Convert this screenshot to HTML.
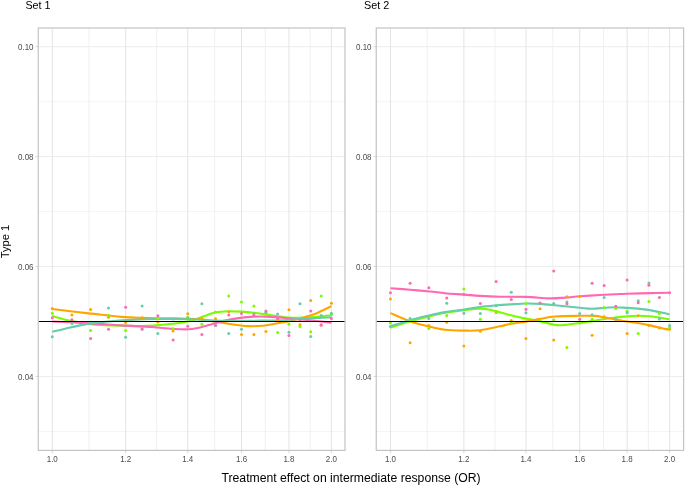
<!DOCTYPE html><html><head><meta charset="utf-8"><style>
html,body{margin:0;padding:0;background:#fff;width:685px;height:485px;overflow:hidden}
svg{display:block;will-change:transform}
text{font-family:"Liberation Sans",sans-serif}
</style></head><body>
<svg width="685" height="485" viewBox="0 0 685 485">
<rect x="0" y="0" width="685" height="485" fill="#fff"/>
<defs><clipPath id="c0"><rect x="38.25" y="28.00" width="306.75" height="422.40"/></clipPath></defs>
<g>
<line x1="38.25" x2="345.00" y1="431.38" y2="431.38" stroke="#F4F4F4" stroke-width="1.0"/>
<line x1="38.25" x2="345.00" y1="321.48" y2="321.48" stroke="#F4F4F4" stroke-width="1.0"/>
<line x1="38.25" x2="345.00" y1="211.58" y2="211.58" stroke="#F4F4F4" stroke-width="1.0"/>
<line x1="38.25" x2="345.00" y1="101.68" y2="101.68" stroke="#F4F4F4" stroke-width="1.0"/>
<line x1="88.96" x2="88.96" y1="28.00" y2="450.40" stroke="#F0F0F0" stroke-width="1.0"/>
<line x1="156.71" x2="156.71" y1="28.00" y2="450.40" stroke="#F0F0F0" stroke-width="1.0"/>
<line x1="214.63" x2="214.63" y1="28.00" y2="450.40" stroke="#F0F0F0" stroke-width="1.0"/>
<line x1="265.24" x2="265.24" y1="28.00" y2="450.40" stroke="#F0F0F0" stroke-width="1.0"/>
<line x1="310.17" x2="310.17" y1="28.00" y2="450.40" stroke="#F0F0F0" stroke-width="1.0"/>
<line x1="38.25" x2="345.00" y1="376.43" y2="376.43" stroke="#ECECEC" stroke-width="1.0"/>
<line x1="38.25" x2="345.00" y1="266.53" y2="266.53" stroke="#ECECEC" stroke-width="1.0"/>
<line x1="38.25" x2="345.00" y1="156.63" y2="156.63" stroke="#ECECEC" stroke-width="1.0"/>
<line x1="38.25" x2="345.00" y1="46.73" y2="46.73" stroke="#ECECEC" stroke-width="1.0"/>
<line x1="52.25" x2="52.25" y1="28.00" y2="450.40" stroke="#E4E4E4" stroke-width="1.0"/>
<line x1="125.67" x2="125.67" y1="28.00" y2="450.40" stroke="#E4E4E4" stroke-width="1.0"/>
<line x1="187.75" x2="187.75" y1="28.00" y2="450.40" stroke="#E4E4E4" stroke-width="1.0"/>
<line x1="241.52" x2="241.52" y1="28.00" y2="450.40" stroke="#E4E4E4" stroke-width="1.0"/>
<line x1="288.95" x2="288.95" y1="28.00" y2="450.40" stroke="#E4E4E4" stroke-width="1.0"/>
<line x1="331.38" x2="331.38" y1="28.00" y2="450.40" stroke="#E4E4E4" stroke-width="1.0"/>
</g>
<g clip-path="url(#c0)">
<path d="M52.25,316.00 C55.27,316.82 63.96,319.55 70.40,320.90 C76.84,322.25 84.08,323.35 90.90,324.10 C97.72,324.85 102.78,325.07 111.30,325.40 C119.82,325.73 134.50,326.10 142.00,326.10 C149.50,326.10 151.20,325.78 156.30,325.40 C161.40,325.02 166.98,324.53 172.60,323.80 C178.22,323.07 184.93,322.22 190.00,321.00 C195.07,319.78 198.67,317.95 203.00,316.50 C207.33,315.05 211.83,313.18 216.00,312.30 C220.17,311.42 223.83,311.32 228.00,311.20 C232.17,311.08 236.67,311.35 241.00,311.60 C245.33,311.85 249.83,312.23 254.00,312.70 C258.17,313.17 260.83,313.65 266.00,314.40 C271.17,315.15 279.25,316.63 285.00,317.20 C290.75,317.77 295.50,317.82 300.50,317.80 C305.50,317.78 309.85,317.53 315.00,317.10 C320.15,316.67 328.65,315.52 331.38,315.20" fill="none" stroke="#7CFC00" stroke-width="2.1" stroke-linecap="butt" stroke-linejoin="round"/>
<path d="M52.25,309.00 C55.27,309.38 63.96,310.53 70.40,311.30 C76.84,312.07 82.38,312.67 90.90,313.60 C99.42,314.53 112.98,316.18 121.50,316.90 C130.02,317.62 133.08,317.65 142.00,317.90 C150.92,318.15 165.33,318.18 175.00,318.40 C184.67,318.62 193.17,318.67 200.00,319.20 C206.83,319.73 211.00,320.80 216.00,321.60 C221.00,322.40 224.75,323.25 230.00,324.00 C235.25,324.75 242.17,325.80 247.50,326.10 C252.83,326.40 257.18,326.23 262.00,325.80 C266.82,325.37 271.73,324.30 276.40,323.50 C281.07,322.70 285.98,321.88 290.00,321.00 C294.02,320.12 296.33,319.38 300.50,318.20 C304.67,317.02 309.85,315.88 315.00,313.90 C320.15,311.92 328.65,307.57 331.38,306.30" fill="none" stroke="#FFA500" stroke-width="2.1" stroke-linecap="butt" stroke-linejoin="round"/>
<path d="M52.25,321.50 C58.69,321.82 79.36,322.75 90.90,323.40 C102.44,324.05 111.32,324.80 121.50,325.40 C131.68,326.00 143.48,326.42 152.00,327.00 C160.52,327.58 165.93,328.57 172.60,328.90 C179.27,329.23 185.60,329.73 192.00,329.00 C198.40,328.27 205.50,325.90 211.00,324.50 C216.50,323.10 220.17,321.70 225.00,320.60 C229.83,319.50 235.17,318.57 240.00,317.90 C244.83,317.23 249.67,316.82 254.00,316.60 C258.33,316.38 260.27,316.33 266.00,316.60 C271.73,316.87 280.65,317.53 288.40,318.20 C296.15,318.87 305.34,319.87 312.50,320.60 C319.66,321.33 328.23,322.27 331.38,322.60" fill="none" stroke="#FF69B4" stroke-width="2.1" stroke-linecap="butt" stroke-linejoin="round"/>
<path d="M52.25,331.80 C55.27,331.08 63.96,328.90 70.40,327.50 C76.84,326.10 84.08,324.43 90.90,323.40 C97.72,322.37 104.50,321.88 111.30,321.30 C118.10,320.72 123.58,320.28 131.70,319.90 C139.82,319.52 150.28,319.10 160.00,319.00 C169.72,318.90 180.83,319.03 190.00,319.30 C199.17,319.57 206.67,320.33 215.00,320.60 C223.33,320.87 231.67,320.90 240.00,320.90 C248.33,320.90 258.33,320.70 265.00,320.60 C271.67,320.50 274.17,320.57 280.00,320.30 C285.83,320.03 291.44,319.50 300.00,319.00 C308.56,318.50 326.15,317.58 331.38,317.30" fill="none" stroke="#66CDAA" stroke-width="2.1" stroke-linecap="butt" stroke-linejoin="round"/>
<circle cx="52.25" cy="308.50" r="1.5" fill="#FFA500"/>
<circle cx="71.90" cy="314.90" r="1.5" fill="#FFA500"/>
<circle cx="90.63" cy="309.40" r="1.5" fill="#FFA500"/>
<circle cx="108.53" cy="317.20" r="1.5" fill="#FFA500"/>
<circle cx="125.67" cy="322.50" r="1.5" fill="#FFA500"/>
<circle cx="142.11" cy="317.80" r="1.5" fill="#FFA500"/>
<circle cx="157.90" cy="322.10" r="1.5" fill="#FFA500"/>
<circle cx="173.10" cy="331.00" r="1.5" fill="#FFA500"/>
<circle cx="187.75" cy="313.70" r="1.5" fill="#FFA500"/>
<circle cx="201.88" cy="318.70" r="1.5" fill="#FFA500"/>
<circle cx="215.53" cy="318.70" r="1.5" fill="#FFA500"/>
<circle cx="228.74" cy="311.70" r="1.5" fill="#FFA500"/>
<circle cx="241.52" cy="334.50" r="1.5" fill="#FFA500"/>
<circle cx="253.91" cy="334.50" r="1.5" fill="#FFA500"/>
<circle cx="265.93" cy="331.40" r="1.5" fill="#FFA500"/>
<circle cx="277.61" cy="320.00" r="1.5" fill="#FFA500"/>
<circle cx="288.95" cy="309.70" r="1.5" fill="#FFA500"/>
<circle cx="299.99" cy="324.80" r="1.5" fill="#FFA500"/>
<circle cx="310.72" cy="300.50" r="1.5" fill="#FFA500"/>
<circle cx="321.18" cy="324.80" r="1.5" fill="#FFA500"/>
<circle cx="331.38" cy="303.30" r="1.5" fill="#FFA500"/>
<circle cx="52.25" cy="313.20" r="1.5" fill="#7CFC00"/>
<circle cx="71.90" cy="320.50" r="1.5" fill="#7CFC00"/>
<circle cx="90.63" cy="330.50" r="1.5" fill="#7CFC00"/>
<circle cx="108.53" cy="315.30" r="1.5" fill="#7CFC00"/>
<circle cx="125.67" cy="330.40" r="1.5" fill="#7CFC00"/>
<circle cx="142.11" cy="328.80" r="1.5" fill="#7CFC00"/>
<circle cx="157.90" cy="318.20" r="1.5" fill="#7CFC00"/>
<circle cx="173.10" cy="328.70" r="1.5" fill="#7CFC00"/>
<circle cx="187.75" cy="317.40" r="1.5" fill="#7CFC00"/>
<circle cx="201.88" cy="324.20" r="1.5" fill="#7CFC00"/>
<circle cx="215.53" cy="312.00" r="1.5" fill="#7CFC00"/>
<circle cx="228.74" cy="296.10" r="1.5" fill="#7CFC00"/>
<circle cx="241.52" cy="302.10" r="1.5" fill="#7CFC00"/>
<circle cx="253.91" cy="306.00" r="1.5" fill="#7CFC00"/>
<circle cx="265.93" cy="314.20" r="1.5" fill="#7CFC00"/>
<circle cx="277.61" cy="332.50" r="1.5" fill="#7CFC00"/>
<circle cx="288.95" cy="324.20" r="1.5" fill="#7CFC00"/>
<circle cx="299.99" cy="326.50" r="1.5" fill="#7CFC00"/>
<circle cx="310.72" cy="331.80" r="1.5" fill="#7CFC00"/>
<circle cx="321.18" cy="296.10" r="1.5" fill="#7CFC00"/>
<circle cx="331.38" cy="314.70" r="1.5" fill="#7CFC00"/>
<circle cx="52.25" cy="336.70" r="1.5" fill="#66CDAA"/>
<circle cx="71.90" cy="323.40" r="1.5" fill="#66CDAA"/>
<circle cx="90.63" cy="323.20" r="1.5" fill="#66CDAA"/>
<circle cx="108.53" cy="308.10" r="1.5" fill="#66CDAA"/>
<circle cx="125.67" cy="337.30" r="1.5" fill="#66CDAA"/>
<circle cx="142.11" cy="306.00" r="1.5" fill="#66CDAA"/>
<circle cx="157.90" cy="333.50" r="1.5" fill="#66CDAA"/>
<circle cx="173.10" cy="319.00" r="1.5" fill="#66CDAA"/>
<circle cx="187.75" cy="317.40" r="1.5" fill="#66CDAA"/>
<circle cx="201.88" cy="303.80" r="1.5" fill="#66CDAA"/>
<circle cx="215.53" cy="325.40" r="1.5" fill="#66CDAA"/>
<circle cx="228.74" cy="333.50" r="1.5" fill="#66CDAA"/>
<circle cx="241.52" cy="329.20" r="1.5" fill="#66CDAA"/>
<circle cx="253.91" cy="313.70" r="1.5" fill="#66CDAA"/>
<circle cx="265.93" cy="312.30" r="1.5" fill="#66CDAA"/>
<circle cx="277.61" cy="314.10" r="1.5" fill="#66CDAA"/>
<circle cx="288.95" cy="332.30" r="1.5" fill="#66CDAA"/>
<circle cx="299.99" cy="303.80" r="1.5" fill="#66CDAA"/>
<circle cx="310.72" cy="336.60" r="1.5" fill="#66CDAA"/>
<circle cx="321.18" cy="315.50" r="1.5" fill="#66CDAA"/>
<circle cx="331.38" cy="313.30" r="1.5" fill="#66CDAA"/>
<circle cx="52.25" cy="317.80" r="1.5" fill="#FF69B4"/>
<circle cx="71.90" cy="319.80" r="1.5" fill="#FF69B4"/>
<circle cx="90.63" cy="338.40" r="1.5" fill="#FF69B4"/>
<circle cx="108.53" cy="329.20" r="1.5" fill="#FF69B4"/>
<circle cx="125.67" cy="307.30" r="1.5" fill="#FF69B4"/>
<circle cx="142.11" cy="329.20" r="1.5" fill="#FF69B4"/>
<circle cx="157.90" cy="315.70" r="1.5" fill="#FF69B4"/>
<circle cx="173.10" cy="340.10" r="1.5" fill="#FF69B4"/>
<circle cx="187.75" cy="326.20" r="1.5" fill="#FF69B4"/>
<circle cx="201.88" cy="334.50" r="1.5" fill="#FF69B4"/>
<circle cx="215.53" cy="325.20" r="1.5" fill="#FF69B4"/>
<circle cx="228.74" cy="314.90" r="1.5" fill="#FF69B4"/>
<circle cx="241.52" cy="313.50" r="1.5" fill="#FF69B4"/>
<circle cx="253.91" cy="315.20" r="1.5" fill="#FF69B4"/>
<circle cx="265.93" cy="311.10" r="1.5" fill="#FF69B4"/>
<circle cx="277.61" cy="318.60" r="1.5" fill="#FF69B4"/>
<circle cx="288.95" cy="335.40" r="1.5" fill="#FF69B4"/>
<circle cx="299.99" cy="320.50" r="1.5" fill="#FF69B4"/>
<circle cx="310.72" cy="311.00" r="1.5" fill="#FF69B4"/>
<circle cx="321.18" cy="325.30" r="1.5" fill="#FF69B4"/>
<circle cx="331.38" cy="318.60" r="1.5" fill="#FF69B4"/>
<line x1="38.25" x2="345.00" y1="321.48" y2="321.48" stroke="#000" stroke-width="1.1"/>
</g>
<rect x="38.25" y="28.00" width="306.75" height="422.40" fill="none" stroke="#C4C4C4" stroke-width="1.2"/>
<line x1="35.50" x2="38.25" y1="376.43" y2="376.43" stroke="#C4C4C4" stroke-width="0.7"/>
<line x1="35.50" x2="38.25" y1="266.53" y2="266.53" stroke="#C4C4C4" stroke-width="0.7"/>
<line x1="35.50" x2="38.25" y1="156.63" y2="156.63" stroke="#C4C4C4" stroke-width="0.7"/>
<line x1="35.50" x2="38.25" y1="46.73" y2="46.73" stroke="#C4C4C4" stroke-width="0.7"/>
<line x1="52.25" x2="52.25" y1="450.40" y2="453.15" stroke="#C4C4C4" stroke-width="0.7"/>
<line x1="125.67" x2="125.67" y1="450.40" y2="453.15" stroke="#C4C4C4" stroke-width="0.7"/>
<line x1="187.75" x2="187.75" y1="450.40" y2="453.15" stroke="#C4C4C4" stroke-width="0.7"/>
<line x1="241.52" x2="241.52" y1="450.40" y2="453.15" stroke="#C4C4C4" stroke-width="0.7"/>
<line x1="288.95" x2="288.95" y1="450.40" y2="453.15" stroke="#C4C4C4" stroke-width="0.7"/>
<line x1="331.38" x2="331.38" y1="450.40" y2="453.15" stroke="#C4C4C4" stroke-width="0.7"/>
<text transform="translate(33.55,379.93) scale(1,1.1)" font-size="8.0" fill="#4D4D4D" text-anchor="end">0.04</text>
<text transform="translate(33.55,270.03) scale(1,1.1)" font-size="8.0" fill="#4D4D4D" text-anchor="end">0.06</text>
<text transform="translate(33.55,160.13) scale(1,1.1)" font-size="8.0" fill="#4D4D4D" text-anchor="end">0.08</text>
<text transform="translate(33.55,50.23) scale(1,1.1)" font-size="8.0" fill="#4D4D4D" text-anchor="end">0.10</text>
<text transform="translate(52.25,462.20) scale(1,1.1)" font-size="8.0" fill="#4D4D4D" text-anchor="middle">1.0</text>
<text transform="translate(125.67,462.20) scale(1,1.1)" font-size="8.0" fill="#4D4D4D" text-anchor="middle">1.2</text>
<text transform="translate(187.75,462.20) scale(1,1.1)" font-size="8.0" fill="#4D4D4D" text-anchor="middle">1.4</text>
<text transform="translate(241.52,462.20) scale(1,1.1)" font-size="8.0" fill="#4D4D4D" text-anchor="middle">1.6</text>
<text transform="translate(288.95,462.20) scale(1,1.1)" font-size="8.0" fill="#4D4D4D" text-anchor="middle">1.8</text>
<text transform="translate(331.38,462.20) scale(1,1.1)" font-size="8.0" fill="#4D4D4D" text-anchor="middle">2.0</text>
<defs><clipPath id="c1"><rect x="376.25" y="28.00" width="307.35" height="422.40"/></clipPath></defs>
<g>
<line x1="376.25" x2="683.60" y1="431.38" y2="431.38" stroke="#F4F4F4" stroke-width="1.0"/>
<line x1="376.25" x2="683.60" y1="321.48" y2="321.48" stroke="#F4F4F4" stroke-width="1.0"/>
<line x1="376.25" x2="683.60" y1="211.58" y2="211.58" stroke="#F4F4F4" stroke-width="1.0"/>
<line x1="376.25" x2="683.60" y1="101.68" y2="101.68" stroke="#F4F4F4" stroke-width="1.0"/>
<line x1="427.16" x2="427.16" y1="28.00" y2="450.40" stroke="#F0F0F0" stroke-width="1.0"/>
<line x1="494.91" x2="494.91" y1="28.00" y2="450.40" stroke="#F0F0F0" stroke-width="1.0"/>
<line x1="552.83" x2="552.83" y1="28.00" y2="450.40" stroke="#F0F0F0" stroke-width="1.0"/>
<line x1="603.44" x2="603.44" y1="28.00" y2="450.40" stroke="#F0F0F0" stroke-width="1.0"/>
<line x1="648.37" x2="648.37" y1="28.00" y2="450.40" stroke="#F0F0F0" stroke-width="1.0"/>
<line x1="376.25" x2="683.60" y1="376.43" y2="376.43" stroke="#ECECEC" stroke-width="1.0"/>
<line x1="376.25" x2="683.60" y1="266.53" y2="266.53" stroke="#ECECEC" stroke-width="1.0"/>
<line x1="376.25" x2="683.60" y1="156.63" y2="156.63" stroke="#ECECEC" stroke-width="1.0"/>
<line x1="376.25" x2="683.60" y1="46.73" y2="46.73" stroke="#ECECEC" stroke-width="1.0"/>
<line x1="390.45" x2="390.45" y1="28.00" y2="450.40" stroke="#E4E4E4" stroke-width="1.0"/>
<line x1="463.87" x2="463.87" y1="28.00" y2="450.40" stroke="#E4E4E4" stroke-width="1.0"/>
<line x1="525.95" x2="525.95" y1="28.00" y2="450.40" stroke="#E4E4E4" stroke-width="1.0"/>
<line x1="579.72" x2="579.72" y1="28.00" y2="450.40" stroke="#E4E4E4" stroke-width="1.0"/>
<line x1="627.15" x2="627.15" y1="28.00" y2="450.40" stroke="#E4E4E4" stroke-width="1.0"/>
<line x1="669.58" x2="669.58" y1="28.00" y2="450.40" stroke="#E4E4E4" stroke-width="1.0"/>
</g>
<g clip-path="url(#c1)">
<path d="M390.45,327.70 C393.71,326.63 403.57,323.17 410.00,321.30 C416.43,319.43 423.17,317.92 429.00,316.50 C434.83,315.08 439.17,313.87 445.00,312.80 C450.83,311.73 458.17,310.80 464.00,310.10 C469.83,309.40 475.67,308.65 480.00,308.60 C484.33,308.55 486.67,309.18 490.00,309.80 C493.33,310.42 496.67,311.43 500.00,312.30 C503.33,313.17 505.67,313.95 510.00,315.00 C514.33,316.05 521.00,317.57 526.00,318.60 C531.00,319.63 535.17,320.15 540.00,321.20 C544.83,322.25 550.83,324.28 555.00,324.90 C559.17,325.52 560.83,325.22 565.00,324.90 C569.17,324.58 575.50,323.63 580.00,323.00 C584.50,322.37 587.00,321.88 592.00,321.10 C597.00,320.32 604.17,319.08 610.00,318.30 C615.83,317.52 622.33,316.82 627.00,316.40 C631.67,315.98 634.17,315.83 638.00,315.80 C641.83,315.77 645.50,315.75 650.00,316.20 C654.50,316.65 661.74,317.95 665.00,318.50 C668.26,319.05 668.82,319.33 669.58,319.50" fill="none" stroke="#7CFC00" stroke-width="2.1" stroke-linecap="butt" stroke-linejoin="round"/>
<path d="M390.45,313.10 C393.71,314.45 403.57,318.97 410.00,321.20 C416.43,323.43 423.17,325.07 429.00,326.50 C434.83,327.93 439.17,329.12 445.00,329.80 C450.83,330.48 458.17,330.53 464.00,330.60 C469.83,330.67 474.00,330.92 480.00,330.20 C486.00,329.48 495.00,327.33 500.00,326.30 C505.00,325.27 505.67,324.78 510.00,324.00 C514.33,323.22 521.00,322.45 526.00,321.60 C531.00,320.75 535.17,319.75 540.00,318.90 C544.83,318.05 548.33,317.02 555.00,316.50 C561.67,315.98 573.33,315.90 580.00,315.80 C586.67,315.70 590.83,315.62 595.00,315.90 C599.17,316.18 599.67,316.57 605.00,317.50 C610.33,318.43 621.50,320.58 627.00,321.50 C632.50,322.42 634.17,322.35 638.00,323.00 C641.83,323.65 645.50,324.42 650.00,325.40 C654.50,326.38 661.74,328.22 665.00,328.90 C668.26,329.58 668.82,329.40 669.58,329.50" fill="none" stroke="#FFA500" stroke-width="2.1" stroke-linecap="butt" stroke-linejoin="round"/>
<path d="M390.45,288.20 C393.71,288.45 403.41,289.15 410.00,289.70 C416.59,290.25 424.17,290.92 430.00,291.50 C435.83,292.08 439.33,292.68 445.00,293.20 C450.67,293.72 458.17,294.15 464.00,294.60 C469.83,295.05 474.00,295.55 480.00,295.90 C486.00,296.25 492.33,296.53 500.00,296.70 C507.67,296.87 517.67,296.62 526.00,296.90 C534.33,297.18 543.50,298.28 550.00,298.40 C556.50,298.52 560.00,297.95 565.00,297.60 C570.00,297.25 574.17,296.73 580.00,296.30 C585.83,295.87 594.17,295.33 600.00,295.00 C605.83,294.67 610.50,294.52 615.00,294.30 C619.50,294.08 621.17,293.90 627.00,293.70 C632.83,293.50 642.90,293.25 650.00,293.10 C657.10,292.95 666.32,292.85 669.58,292.80" fill="none" stroke="#FF69B4" stroke-width="2.1" stroke-linecap="butt" stroke-linejoin="round"/>
<path d="M390.45,326.40 C393.71,325.37 403.57,322.02 410.00,320.20 C416.43,318.38 423.17,316.85 429.00,315.50 C434.83,314.15 439.17,313.10 445.00,312.10 C450.83,311.10 458.17,310.35 464.00,309.50 C469.83,308.65 474.83,307.67 480.00,307.00 C485.17,306.33 490.00,305.93 495.00,305.50 C500.00,305.07 504.83,304.73 510.00,304.40 C515.17,304.07 521.00,303.58 526.00,303.50 C531.00,303.42 535.17,303.62 540.00,303.90 C544.83,304.18 548.33,304.55 555.00,305.20 C561.67,305.85 573.83,307.22 580.00,307.80 C586.17,308.38 587.83,308.70 592.00,308.70 C596.17,308.70 601.17,308.05 605.00,307.80 C608.83,307.55 611.33,307.18 615.00,307.20 C618.67,307.22 622.83,307.62 627.00,307.90 C631.17,308.18 636.17,308.53 640.00,308.90 C643.83,309.27 645.83,309.37 650.00,310.10 C654.17,310.83 661.74,312.58 665.00,313.30 C668.26,314.02 668.82,314.22 669.58,314.40" fill="none" stroke="#66CDAA" stroke-width="2.1" stroke-linecap="butt" stroke-linejoin="round"/>
<circle cx="390.45" cy="299.00" r="1.5" fill="#FFA500"/>
<circle cx="410.10" cy="342.70" r="1.5" fill="#FFA500"/>
<circle cx="428.83" cy="325.60" r="1.5" fill="#FFA500"/>
<circle cx="446.73" cy="322.30" r="1.5" fill="#FFA500"/>
<circle cx="463.87" cy="346.10" r="1.5" fill="#FFA500"/>
<circle cx="480.31" cy="331.20" r="1.5" fill="#FFA500"/>
<circle cx="496.10" cy="312.60" r="1.5" fill="#FFA500"/>
<circle cx="511.30" cy="320.40" r="1.5" fill="#FFA500"/>
<circle cx="525.95" cy="338.40" r="1.5" fill="#FFA500"/>
<circle cx="540.08" cy="308.80" r="1.5" fill="#FFA500"/>
<circle cx="553.73" cy="340.00" r="1.5" fill="#FFA500"/>
<circle cx="566.94" cy="296.70" r="1.5" fill="#FFA500"/>
<circle cx="579.72" cy="296.60" r="1.5" fill="#FFA500"/>
<circle cx="592.11" cy="335.30" r="1.5" fill="#FFA500"/>
<circle cx="604.13" cy="316.80" r="1.5" fill="#FFA500"/>
<circle cx="615.81" cy="319.50" r="1.5" fill="#FFA500"/>
<circle cx="627.15" cy="333.40" r="1.5" fill="#FFA500"/>
<circle cx="638.19" cy="315.80" r="1.5" fill="#FFA500"/>
<circle cx="648.92" cy="325.40" r="1.5" fill="#FFA500"/>
<circle cx="659.38" cy="328.10" r="1.5" fill="#FFA500"/>
<circle cx="669.58" cy="329.20" r="1.5" fill="#FFA500"/>
<circle cx="390.45" cy="322.90" r="1.5" fill="#7CFC00"/>
<circle cx="410.10" cy="320.80" r="1.5" fill="#7CFC00"/>
<circle cx="428.83" cy="328.50" r="1.5" fill="#7CFC00"/>
<circle cx="446.73" cy="315.40" r="1.5" fill="#7CFC00"/>
<circle cx="463.87" cy="289.10" r="1.5" fill="#7CFC00"/>
<circle cx="480.31" cy="319.30" r="1.5" fill="#7CFC00"/>
<circle cx="496.10" cy="311.50" r="1.5" fill="#7CFC00"/>
<circle cx="511.30" cy="322.60" r="1.5" fill="#7CFC00"/>
<circle cx="525.95" cy="303.50" r="1.5" fill="#7CFC00"/>
<circle cx="540.08" cy="320.80" r="1.5" fill="#7CFC00"/>
<circle cx="553.73" cy="319.80" r="1.5" fill="#7CFC00"/>
<circle cx="566.94" cy="347.60" r="1.5" fill="#7CFC00"/>
<circle cx="579.72" cy="322.90" r="1.5" fill="#7CFC00"/>
<circle cx="592.11" cy="319.20" r="1.5" fill="#7CFC00"/>
<circle cx="604.13" cy="307.50" r="1.5" fill="#7CFC00"/>
<circle cx="615.81" cy="308.50" r="1.5" fill="#7CFC00"/>
<circle cx="627.15" cy="311.20" r="1.5" fill="#7CFC00"/>
<circle cx="638.19" cy="333.40" r="1.5" fill="#7CFC00"/>
<circle cx="648.92" cy="301.60" r="1.5" fill="#7CFC00"/>
<circle cx="659.38" cy="313.60" r="1.5" fill="#7CFC00"/>
<circle cx="669.58" cy="327.40" r="1.5" fill="#7CFC00"/>
<circle cx="390.45" cy="326.40" r="1.5" fill="#66CDAA"/>
<circle cx="410.10" cy="318.60" r="1.5" fill="#66CDAA"/>
<circle cx="428.83" cy="318.60" r="1.5" fill="#66CDAA"/>
<circle cx="446.73" cy="303.20" r="1.5" fill="#66CDAA"/>
<circle cx="463.87" cy="313.20" r="1.5" fill="#66CDAA"/>
<circle cx="480.31" cy="313.60" r="1.5" fill="#66CDAA"/>
<circle cx="496.10" cy="305.80" r="1.5" fill="#66CDAA"/>
<circle cx="511.30" cy="292.20" r="1.5" fill="#66CDAA"/>
<circle cx="525.95" cy="312.70" r="1.5" fill="#66CDAA"/>
<circle cx="540.08" cy="303.20" r="1.5" fill="#66CDAA"/>
<circle cx="553.73" cy="303.50" r="1.5" fill="#66CDAA"/>
<circle cx="566.94" cy="302.10" r="1.5" fill="#66CDAA"/>
<circle cx="579.72" cy="313.40" r="1.5" fill="#66CDAA"/>
<circle cx="592.11" cy="314.80" r="1.5" fill="#66CDAA"/>
<circle cx="604.13" cy="297.50" r="1.5" fill="#66CDAA"/>
<circle cx="615.81" cy="318.80" r="1.5" fill="#66CDAA"/>
<circle cx="627.15" cy="312.70" r="1.5" fill="#66CDAA"/>
<circle cx="638.19" cy="300.80" r="1.5" fill="#66CDAA"/>
<circle cx="648.92" cy="283.10" r="1.5" fill="#66CDAA"/>
<circle cx="659.38" cy="319.00" r="1.5" fill="#66CDAA"/>
<circle cx="669.58" cy="325.60" r="1.5" fill="#66CDAA"/>
<circle cx="390.45" cy="292.80" r="1.5" fill="#FF69B4"/>
<circle cx="410.10" cy="283.30" r="1.5" fill="#FF69B4"/>
<circle cx="428.83" cy="287.70" r="1.5" fill="#FF69B4"/>
<circle cx="446.73" cy="298.10" r="1.5" fill="#FF69B4"/>
<circle cx="463.87" cy="294.30" r="1.5" fill="#FF69B4"/>
<circle cx="480.31" cy="303.60" r="1.5" fill="#FF69B4"/>
<circle cx="496.10" cy="281.40" r="1.5" fill="#FF69B4"/>
<circle cx="511.30" cy="299.60" r="1.5" fill="#FF69B4"/>
<circle cx="525.95" cy="309.20" r="1.5" fill="#FF69B4"/>
<circle cx="540.08" cy="303.10" r="1.5" fill="#FF69B4"/>
<circle cx="553.73" cy="270.90" r="1.5" fill="#FF69B4"/>
<circle cx="566.94" cy="303.70" r="1.5" fill="#FF69B4"/>
<circle cx="579.72" cy="319.20" r="1.5" fill="#FF69B4"/>
<circle cx="592.11" cy="283.30" r="1.5" fill="#FF69B4"/>
<circle cx="604.13" cy="285.60" r="1.5" fill="#FF69B4"/>
<circle cx="615.81" cy="306.30" r="1.5" fill="#FF69B4"/>
<circle cx="627.15" cy="280.00" r="1.5" fill="#FF69B4"/>
<circle cx="638.19" cy="302.70" r="1.5" fill="#FF69B4"/>
<circle cx="648.92" cy="285.30" r="1.5" fill="#FF69B4"/>
<circle cx="659.38" cy="297.60" r="1.5" fill="#FF69B4"/>
<circle cx="669.58" cy="292.80" r="1.5" fill="#FF69B4"/>
<line x1="376.25" x2="683.60" y1="321.48" y2="321.48" stroke="#000" stroke-width="1.1"/>
</g>
<rect x="376.25" y="28.00" width="307.35" height="422.40" fill="none" stroke="#C4C4C4" stroke-width="1.2"/>
<line x1="373.50" x2="376.25" y1="376.43" y2="376.43" stroke="#C4C4C4" stroke-width="0.7"/>
<line x1="373.50" x2="376.25" y1="266.53" y2="266.53" stroke="#C4C4C4" stroke-width="0.7"/>
<line x1="373.50" x2="376.25" y1="156.63" y2="156.63" stroke="#C4C4C4" stroke-width="0.7"/>
<line x1="373.50" x2="376.25" y1="46.73" y2="46.73" stroke="#C4C4C4" stroke-width="0.7"/>
<line x1="390.45" x2="390.45" y1="450.40" y2="453.15" stroke="#C4C4C4" stroke-width="0.7"/>
<line x1="463.87" x2="463.87" y1="450.40" y2="453.15" stroke="#C4C4C4" stroke-width="0.7"/>
<line x1="525.95" x2="525.95" y1="450.40" y2="453.15" stroke="#C4C4C4" stroke-width="0.7"/>
<line x1="579.72" x2="579.72" y1="450.40" y2="453.15" stroke="#C4C4C4" stroke-width="0.7"/>
<line x1="627.15" x2="627.15" y1="450.40" y2="453.15" stroke="#C4C4C4" stroke-width="0.7"/>
<line x1="669.58" x2="669.58" y1="450.40" y2="453.15" stroke="#C4C4C4" stroke-width="0.7"/>
<text transform="translate(371.55,379.93) scale(1,1.1)" font-size="8.0" fill="#4D4D4D" text-anchor="end">0.04</text>
<text transform="translate(371.55,270.03) scale(1,1.1)" font-size="8.0" fill="#4D4D4D" text-anchor="end">0.06</text>
<text transform="translate(371.55,160.13) scale(1,1.1)" font-size="8.0" fill="#4D4D4D" text-anchor="end">0.08</text>
<text transform="translate(371.55,50.23) scale(1,1.1)" font-size="8.0" fill="#4D4D4D" text-anchor="end">0.10</text>
<text transform="translate(390.45,462.20) scale(1,1.1)" font-size="8.0" fill="#4D4D4D" text-anchor="middle">1.0</text>
<text transform="translate(463.87,462.20) scale(1,1.1)" font-size="8.0" fill="#4D4D4D" text-anchor="middle">1.2</text>
<text transform="translate(525.95,462.20) scale(1,1.1)" font-size="8.0" fill="#4D4D4D" text-anchor="middle">1.4</text>
<text transform="translate(579.72,462.20) scale(1,1.1)" font-size="8.0" fill="#4D4D4D" text-anchor="middle">1.6</text>
<text transform="translate(627.15,462.20) scale(1,1.1)" font-size="8.0" fill="#4D4D4D" text-anchor="middle">1.8</text>
<text transform="translate(669.58,462.20) scale(1,1.1)" font-size="8.0" fill="#4D4D4D" text-anchor="middle">2.0</text>
<text transform="translate(25.4,9.1) scale(1,1.07)" font-size="10.8" fill="#000">Set 1</text>
<text transform="translate(364.0,9.1) scale(1,1.07)" font-size="10.8" fill="#000">Set 2</text>
<text x="221.5" y="482.1" font-size="12" fill="#000" textLength="259.2" lengthAdjust="spacingAndGlyphs">Treatment effect on intermediate response (OR)</text>
<text transform="translate(9.3,241.5) rotate(-90)" font-size="11.2" fill="#000" text-anchor="middle">Type 1</text>
</svg></body></html>
